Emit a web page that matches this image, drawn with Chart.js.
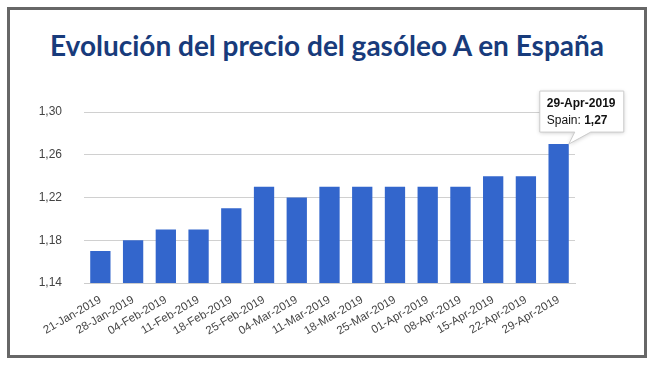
<!DOCTYPE html>
<html>
<head>
<meta charset="utf-8">
<script src="https://cdn.jsdelivr.net/npm/chart.js@4/dist/chart.umd.min.js"></script>
<style>
  html, body { margin: 0; padding: 0; background: #fff; }
  #wrap { position: relative; width: 654px; height: 367px; overflow: hidden; }
  #frame { position: absolute; left: 7px; top: 7px; width: 640px; height: 351px; box-sizing: border-box; border: 3px solid #676767; }
  #title { position: absolute; left: 0; width: 654px; top: 28px; text-align: center; font-family: Lato, sans-serif; font-weight: 700; font-size: 28px; color: #183b7b; white-space: nowrap; }
  canvas { position: absolute; left: 0; top: 0; }
</style>
</head>
<body>
<div id="wrap">
  <div id="frame"></div>
  <div id="title">Evolución del precio del gasóleo A en España</div>
  <canvas id="chart" width="654" height="367"></canvas>
</div>
<script>
const weeks = ["21-Jan-2019", "28-Jan-2019", "04-Feb-2019", "11-Feb-2019", "18-Feb-2019", "25-Feb-2019", "04-Mar-2019",
    "11-Mar-2019", "18-Mar-2019", "25-Mar-2019", "01-Apr-2019", "08-Apr-2019", "15-Apr-2019", "22-Apr-2019", "29-Apr-2019"];
const spainPrice = [1.17, 1.18, 1.19, 1.19, 1.21, 1.23, 1.22, 1.23, 1.23, 1.23, 1.23, 1.23, 1.24, 1.24, 1.27];
const yTicks = [1.14, 1.18, 1.22, 1.26, 1.30];
const seriesName = "Spain";
const highlighted = 14;

const fmt = v => v.toFixed(2).replace('.', ',');

// google-style hover box over the last bar
const hoverBox = {
    id: 'hoverBox',
    afterDraw(chart) {
        const bar = chart.getDatasetMeta(0).data[highlighted];
        if (!bar) return;
        const ctx = chart.ctx;
        const tipX = bar.x + bar.width / 2, tipY = bar.y;
        const bx = tipX - 29, by = tipY - 53, bw = 84, bh = 41;
        ctx.save();
        ctx.shadowColor = 'rgba(0,0,0,0.2)';
        ctx.shadowBlur = 4;
        ctx.shadowOffsetY = 1;
        ctx.beginPath();
        ctx.moveTo(bx, by);
        ctx.lineTo(bx + bw, by);
        ctx.lineTo(bx + bw, by + bh);
        ctx.lineTo(tipX + 22, by + bh);
        ctx.lineTo(tipX, tipY);
        ctx.lineTo(tipX + 6, by + bh);
        ctx.lineTo(bx, by + bh);
        ctx.closePath();
        ctx.fillStyle = '#fff';
        ctx.fill();
        ctx.shadowColor = 'transparent';
        ctx.strokeStyle = '#cccccc';
        ctx.lineWidth = 1;
        ctx.stroke();

        ctx.fillStyle = '#111';
        ctx.textBaseline = 'alphabetic';
        ctx.font = 'bold 12px "Liberation Sans", Arial, sans-serif';
        ctx.fillText(weeks[highlighted], bx + 7, by + 16);
        ctx.font = '12px "Liberation Sans", Arial, sans-serif';
        const lead = seriesName + ': ';
        ctx.fillText(lead, bx + 7, by + 33);
        const w = ctx.measureText(lead).width;
        ctx.font = 'bold 12px "Liberation Sans", Arial, sans-serif';
        ctx.fillText(fmt(spainPrice[highlighted]), bx + 7 + w, by + 33);
        ctx.restore();
    }
};

new Chart(document.getElementById('chart'), {
    type: 'bar',
    data: {
        labels: weeks,
        datasets: [{
            label: seriesName,
            data: spainPrice,
            backgroundColor: '#3366cc',
            categoryPercentage: 1,
            barPercentage: 0.62
        }]
    },
    options: {
        responsive: false,
        animation: false,
        events: [],
        layout: { padding: { left: 0, right: 79, top: 112, bottom: 23 } },
        plugins: { legend: { display: false }, tooltip: { enabled: false } },
        scales: {
            x: {
                grid: { display: false },
                border: { color: '#cccccc' },
                ticks: {
                    color: '#444', minRotation: 30, maxRotation: 30, padding: 2, autoSkip: false,
                    font: { family: '"Liberation Sans", Arial, sans-serif', size: 11.5 }
                },
                afterFit: s => { s.height = 61; }
            },
            y: {
                min: 1.14, max: 1.30,
                border: { display: false },
                grid: { color: '#d0d0d0', drawTicks: false },
                afterBuildTicks: s => { s.ticks = yTicks.map(v => ({ value: v })); },
                afterFit: s => { s.width = 84; },
                ticks: {
                    color: '#444', padding: 22,
                    font: { family: '"Liberation Sans", Arial, sans-serif', size: 12 },
                    callback: v => fmt(v)
                }
            }
        }
    },
    plugins: [hoverBox]
});
</script>
</body>
</html>
